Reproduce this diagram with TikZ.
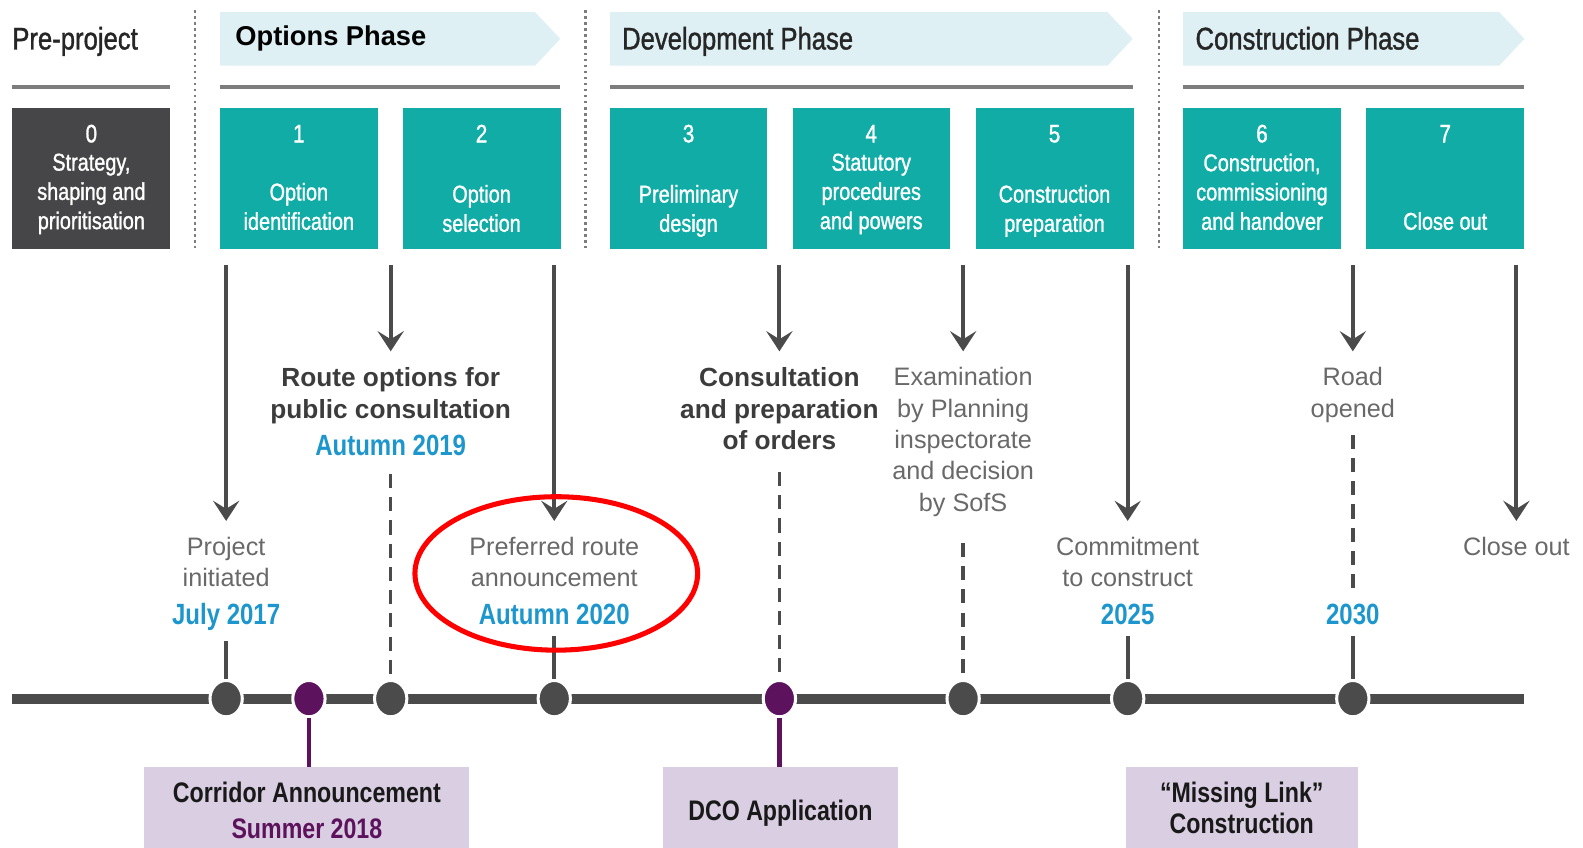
\documentclass[tikz,border=0pt]{standalone}
\usepackage{fontspec}
\setmainfont{Liberation Sans}
\newfontfamily\cond[FakeStretch=0.82]{Liberation Sans}
\newfontfamily\condm[FakeStretch=0.82,FakeBold=1.2]{Liberation Sans}
\usetikzlibrary{arrows.meta,shapes.geometric}
\definecolor{tealc}{RGB}{18,172,166}
\definecolor{darkc}{RGB}{70,70,72}
\definecolor{phasec}{RGB}{222,240,244}
\definecolor{linec}{RGB}{75,75,75}
\definecolor{rulec}{RGB}{125,125,125}
\definecolor{bluec}{RGB}{28,150,204}
\definecolor{purplec}{RGB}{92,18,92}
\definecolor{lavc}{RGB}{218,206,226}
\definecolor{graytext}{RGB}{105,105,105}
\definecolor{boldtext}{RGB}{60,60,60}
\begin{document}
\begin{tikzpicture}[x=1pt,y=-1pt,
  stagebox/.style={fill=tealc, minimum width=156pt, minimum height=139pt, anchor=north west, inner sep=0pt},
  darkbox/.style={stagebox, fill=darkc},
  boxnum/.style={text=white, font=\condm\fontsize{25}{29}\selectfont, anchor=base, inner sep=0pt},
  boxtxt/.style={text=white, font=\condm\fontsize{24}{29}\selectfont, align=center, anchor=north, inner sep=0pt},
  phase/.style={fill=phasec},
  phasetxt/.style={font=\condm\fontsize{31}{36}\selectfont, text=black!85, anchor=base west, inner sep=0pt},
  hrule/.style={draw=rulec, line width=3.5pt},
  sep/.style={draw=rulec, line width=2.5pt, dash pattern=on 2.5pt off 3.5pt},
  arr/.style={draw=linec, line width=4pt, -{Stealth[length=20pt,width=26pt,inset=8pt]}, shorten >=16pt},
  lbl/.style={font=\fontsize{25}{31}\selectfont, text=graytext, align=center, anchor=north, inner sep=0pt},
  blbl/.style={font=\bfseries\fontsize{26}{31}\selectfont, text=boldtext, align=center, anchor=north, inner sep=0pt},
  date/.style={font=\cond\bfseries\fontsize{29}{34}\selectfont, text=bluec, anchor=base, inner sep=0pt},
  stem/.style={draw=linec, line width=4pt},
  dstem/.style={draw=linec, line width=3.5pt, dash pattern=on 14pt off 9pt},
  pstem/.style={draw=purplec, line width=4.5pt},
  dot/.style={ellipse, fill=linec, draw=white, line width=3pt, minimum width=32pt, minimum height=36pt, inner sep=0pt},
  pdot/.style={dot, fill=purplec},
  lav/.style={fill=lavc, anchor=north, minimum height=80pt, inner sep=0pt},
  lavtxt/.style={font=\cond\bfseries\fontsize{28}{32}\selectfont, text=black!90, anchor=base, inner sep=0pt}
]
\useasboundingbox (0,0) rectangle (1568,839);

% phase banners
\fill[phase] (218,12) -- (530,12) -- (555,38.5) -- (530,65) -- (218,65) -- cycle;
\fill[phase] (604,12) -- (1097,12) -- (1122,38.5) -- (1097,65) -- (604,65) -- cycle;
\fill[phase] (1172,12) -- (1485,12) -- (1510,38.5) -- (1485,65) -- (1172,65) -- cycle;
\node[phasetxt] (pre) at (12,49) {Pre-project};
\node[font=\bfseries\fontsize{27}{32}\selectfont, anchor=base west, inner sep=0pt] (opt) at (233,45) {Options Phase};
\node[phasetxt] (dev) at (616,49) {Development Phase};
\node[phasetxt] (con) at (1184,49) {Construction Phase};

% rules
\draw[hrule] (12,86) -- (168,86);
\draw[hrule] (218,86) -- (555,86);
\draw[hrule] (604,86) -- (1122,86);
\draw[hrule] (1172,86) -- (1510,86);

% separators
\draw[sep] (193,10) -- (193,246);
\draw[sep] (580,10) -- (580,246);
\draw[sep] (1148,10) -- (1148,246);

% stage boxes
\node[darkbox] (b0) at (12,107) {};
\node[stagebox] (b1) at (218,107) {};
\node[stagebox] (b2) at (399,107) {};
\node[stagebox] (b3) at (604,107) {};
\node[stagebox] (b4) at (785,107) {};
\node[stagebox] (b5) at (967,107) {};
\node[stagebox] (b6) at (1172,107) {};
\node[stagebox] (b7) at (1353,107) {};

\node[boxnum] (n0) at (90.5,141) {0};
\node[boxnum] (n1) at (296,141) {1};
\node[boxnum] (n2) at (477,141) {2};
\node[boxnum] (n3) at (682,141) {3};
\node[boxnum] (n4) at (863,141) {4};
\node[boxnum] (n5) at (1044.5,141) {5};
\node[boxnum] (n6) at (1250,141) {6};
\node[boxnum] (n7) at (1431.5,141) {7};

\node[boxtxt] (t0) at (90.5,152) {Strategy,\\shaping and\\prioritisation};
\node[boxtxt] (t1) at (296,181) {Option\\identification};
\node[boxtxt] (t2) at (477,183) {Option\\selection};
\node[boxtxt] (t3) at (682,183) {Preliminary\\design};
\node[boxtxt] (t4) at (863,152) {Statutory\\procedures\\and powers};
\node[boxtxt] (t5) at (1044.5,183) {Construction\\preparation};
\node[boxtxt] (t6) at (1250,152) {Construction,\\commissioning\\and handover};
\node[boxtxt] (t7) at (1431.5,210) {Close out};

% gate coordinates
\coordinate (g1) at (224,262);
\coordinate (g2) at (387,262);
\coordinate (g3) at (549,262);
\coordinate (g4) at (772,262);
\coordinate (g5) at (954,262);
\coordinate (g6) at (1117,262);
\coordinate (g7) at (1340,262);
\coordinate (g8) at (1502,262);

% labels
\node[lbl] (l1) at (224,532) {Project\\initiated};
\node[date] (d1) at (224,619) {July 2017};
\node[blbl] (l2) at (387,364) {Route options for\\public consultation};
\node[date] (d2) at (387,451) {Autumn 2019};
\node[lbl] (l3) at (549,532) {Preferred route\\announcement};
\node[date] (d3) at (549,619) {Autumn 2020};
\node[blbl] (l4) at (772,364) {Consultation\\and preparation\\of orders};
\node[lbl] (l5) at (954,364) {Examination\\by Planning\\inspectorate\\and decision\\by SofS};
\node[lbl] (l6) at (1117,532) {Commitment\\to construct};
\node[date] (d6) at (1117,619) {2025};
\node[lbl] (l7) at (1340,364) {Road\\opened};
\node[date] (d7) at (1340,619) {2030};
\node[lbl] (l8) at (1502,532) {Close out};

% arrows
\draw[arr] (g1) -- (l1.north);
\draw[arr] (g2) -- (l2.north);
\draw[arr] (g3) -- (l3.north);
\draw[arr] (g4) -- (l4.north);
\draw[arr] (g5) -- (l5.north);
\draw[arr] (g6) -- (l6.north);
\draw[arr] (g7) -- (l7.north);
\draw[arr] (g8) -- (l8.north);

% timeline
\draw[draw=linec, line width=10pt] (12,692) -- (1510,692);
\node[dot] (p1) at (224,692) {};
\node[pdot] (p2) at (306,692) {};
\node[dot] (p3) at (387,692) {};
\node[dot] (p4) at (549,692) {};
\node[pdot] (p5) at (772,692) {};
\node[dot] (p6) at (954,692) {};
\node[dot] (p7) at (1117,692) {};
\node[dot] (p8) at (1340,692) {};

% stems
\draw[stem] ([yshift=-10pt]d1.south) -- (p1.north);
\draw[dstem] ([yshift=-18pt]d2.south) -- (p3.north);
\draw[stem] ([yshift=-10pt]d3.south) -- (p4.north);
\draw[dstem] ([yshift=-22pt]l4.south) -- (p5.north);
\draw[dstem] ([yshift=-26pt]l5.south) -- (p6.north);
\draw[stem] ([yshift=-10pt]d6.south) -- (p7.north);
\draw[dstem] ([yshift=-12pt]l7.south) -- ([yshift=14pt]d7.north);
\draw[stem] ([yshift=-10pt]d7.south) -- (p8.north);

% bottom boxes
\node[lav, minimum width=322pt] (c1) at (304,760) {};
\node[lav, minimum width=232pt] (c2) at (773,760) {};
\node[lav, minimum width=230pt] (c3) at (1230,760) {};
\draw[pstem] (p2.south) -- (p2.south |- c1.north);
\draw[pstem] (p5.south) -- (p5.south |- c2.north);
\node[lavtxt] (c1a) at (304,795) {Corridor Announcement};
\node[lavtxt, text=purplec] (c1b) at (304,831) {Summer 2018};
\node[lavtxt] (c2a) at (773,813) {DCO Application};
\node[lavtxt] (c3a) at (1230,795) {“Missing Link”};
\node[lavtxt] (c3b) at (1230,826) {Construction};

% highlight
\node[ellipse, draw=red, line width=5pt, minimum width=280pt, minimum height=152pt, inner sep=0pt] (hl) at (551,568) {};
\end{tikzpicture}
\end{document}
